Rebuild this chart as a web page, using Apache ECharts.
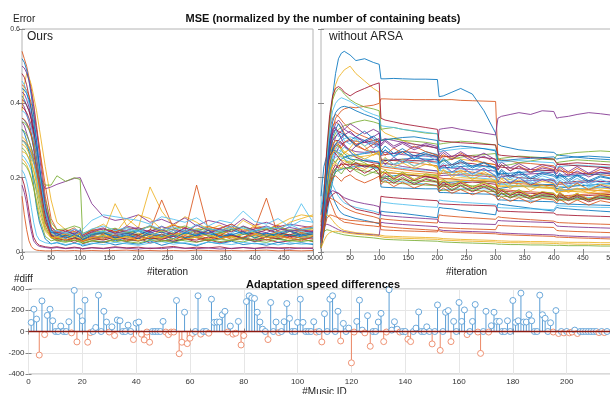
<!DOCTYPE html>
<html>
<head>
<meta charset="utf-8">
<script src="https://cdn.jsdelivr.net/npm/echarts@6/dist/echarts.min.js"></script>
<style>
html, body { margin: 0; padding: 0; background: #fff; }
#chart { width: 610px; height: 394px; }
</style>
</head>
<body>
<div id="chart"></div>
<script>
// iterations at which the "Ours" curves were read (error x 1000)
var oursIter = [0, 4, 8, 12, 16, 20, 25, 30, 40, 50, 60, 75, 90, 100, 104, 120, 140, 160, 180, 200,
    220, 240, 260, 280, 300, 320, 340, 360, 380, 400, 420, 440, 460, 480, 500];
var oursErr = [
    [420,410,395,380,360,330,280,220,120,60,40,30,38,32,28,35,42,30,38,45,33,40,28,36,44,30,38,46,34,29,41,35,30,44,38],
    [540,520,500,470,440,400,340,280,150,70,50,52,40,48,30,46,38,55,42,36,50,44,58,40,47,35,52,43,39,56,41,48,37,50,45],
    [380,450,480,470,450,420,380,330,230,140,80,60,55,50,45,60,75,50,90,65,175,110,70,95,80,60,72,55,85,68,60,74,90,100,95],
    [350,340,320,300,280,260,230,200,170,175,182,190,198,200,185,130,95,85,90,100,80,88,75,92,70,85,78,66,90,72,80,68,75,70,65],
    [300,295,285,270,255,240,220,200,180,180,205,190,200,195,50,60,45,55,50,62,48,40,52,46,58,42,50,38,47,55,41,49,44,52,46],
    [260,255,245,235,220,200,170,140,80,45,42,35,48,40,36,50,44,58,62,48,55,70,52,60,46,64,55,50,68,58,62,48,70,130,80],
    [480,470,450,420,380,330,260,190,90,40,30,35,25,32,22,30,26,34,28,38,24,32,29,36,27,33,25,31,37,28,34,26,30,35,28],
    [330,320,300,270,230,180,120,80,35,22,25,18,24,20,16,22,28,19,25,21,30,18,26,23,17,27,22,29,20,24,18,26,21,25,20],
    [450,445,435,420,400,370,330,280,180,90,60,55,65,50,40,55,48,62,50,45,58,140,65,52,180,60,55,70,48,62,145,45,60,52,58],
    [310,305,295,285,270,250,220,190,120,70,50,46,42,55,38,60,50,130,70,100,90,60,75,55,62,70,58,66,50,72,64,58,80,90,100],
    [400,390,370,350,320,280,220,160,80,48,40,44,50,38,34,42,38,46,52,40,48,36,44,58,42,50,62,45,38,52,47,55,42,48,50],
    [280,275,265,250,230,200,160,120,60,42,38,45,40,35,30,38,44,36,42,48,35,40,46,38,52,44,36,42,50,38,45,40,48,36,42],
    [460,450,430,400,360,310,250,190,100,55,42,40,45,38,60,85,100,95,90,85,75,95,88,80,92,70,85,78,110,82,75,90,68,85,80],
    [200,180,150,110,70,40,25,18,14,12,14,10,13,11,9,12,10,14,11,13,9,12,15,10,13,11,14,9,12,10,13,11,12,10,11],
    [360,355,345,330,310,280,230,180,90,45,45,40,36,48,33,44,52,40,47,36,55,42,50,38,46,53,41,49,37,45,51,40,46,42,48],
    [150,100,60,30,15,8,5,4,3,3,4,3,4,3,3,4,3,4,5,3,4,3,4,3,5,4,3,4,3,4,5,3,4,3,4],
    [250,245,235,220,200,175,140,105,55,38,38,32,36,30,28,34,40,45,38,32,42,36,48,52,40,35,44,38,50,42,46,39,55,48,52],
    [430,425,410,390,360,320,270,210,120,65,55,48,60,52,45,58,65,50,70,62,55,68,60,52,72,58,64,75,55,62,70,58,66,60,55],
    [330,325,315,300,280,250,200,150,70,38,30,26,32,28,24,30,35,27,33,29,38,31,26,34,40,29,35,31,27,36,32,38,30,34,29],
    [220,210,190,160,120,80,45,32,25,22,26,20,24,22,19,24,20,26,22,18,24,28,21,25,19,27,23,20,26,22,24,19,25,21,23],
    [390,385,375,360,340,310,260,210,110,55,52,60,46,55,40,52,48,62,55,45,60,52,48,66,50,58,44,62,54,48,60,52,46,58,50],
    [520,510,490,460,420,370,300,230,110,60,48,44,52,46,40,48,55,43,50,58,46,54,42,50,57,45,52,60,48,55,43,51,58,46,53],
    [300,298,290,280,265,245,215,180,110,60,52,48,55,50,46,58,62,54,66,60,70,58,72,64,56,68,62,75,58,66,60,72,55,64,70],
    [270,268,262,252,238,220,190,155,90,50,40,50,44,48,35,45,52,48,56,50,44,58,50,46,60,52,48,56,62,50,45,54,60,56,62],
    [180,160,130,90,55,30,20,15,12,10,12,9,11,10,8,11,9,12,10,8,11,9,12,10,9,11,8,10,12,9,11,10,8,11,9],
    [350,348,340,330,315,295,260,220,140,80,60,62,70,65,40,50,58,64,52,60,68,55,62,70,58,64,52,60,68,56,62,66,58,60,64],
    [300,296,288,276,260,240,205,165,90,52,48,52,46,55,42,50,56,48,54,60,50,45,58,52,62,48,55,64,50,58,66,52,60,55,50],
    [410,405,395,380,355,320,265,200,95,45,36,32,38,34,30,36,32,40,35,30,38,34,42,36,32,40,35,44,38,33,40,36,42,38,35],
    [440,436,426,410,385,350,295,230,110,52,50,38,46,40,34,46,52,38,44,56,40,48,36,52,44,58,40,47,54,38,50,44,56,42,48],
    [360,356,348,335,315,285,235,175,80,42,34,42,30,38,28,40,34,46,30,42,36,48,32,44,38,30,46,34,40,48,32,44,38,30,42],
    [290,286,278,266,248,222,180,135,65,38,40,32,44,36,30,38,46,34,42,30,44,38,50,34,40,46,36,42,32,48,38,44,34,40,46],
    [500,495,482,462,432,392,330,260,130,60,44,56,48,60,42,54,62,50,58,66,52,60,48,64,56,50,62,54,70,58,52,64,56,60,54],
    [240,236,228,216,198,172,130,90,42,30,34,28,32,26,24,30,26,34,28,24,32,28,36,30,26,34,28,32,38,30,26,34,30,28,32],
    [380,376,368,355,336,310,265,210,110,55,58,50,62,56,48,62,70,58,66,54,72,60,68,56,74,62,58,70,64,56,68,62,74,60,66]
];

// iterations at which the "without ARSA" curves were read (error x 1000)
var noArsaIter = [0, 5, 10, 15, 20, 25, 30, 35, 40, 50, 60, 75, 90, 100, 103, 110, 125, 140, 160, 180,
    200, 203, 210, 225, 240, 260, 280, 300, 304, 310, 325, 340, 360, 380, 400, 405, 410, 425, 440, 460, 480, 500];
var noArsaErr = [
    [40,120,230,340,420,480,520,535,540,530,515,520,510,505,466,466,467,466,465,465,464,418,420,430,440,425,380,320,290,285,280,275,272,270,268,262,260,258,255,252,250,248],
    [30,110,200,280,330,360,370,380,385,390,388,392,395,400,412,412,411,411,410,410,410,411,410,410,408,407,406,405,250,248,245,240,238,235,232,220,218,215,213,210,208,205],
    [50,150,260,350,410,450,470,480,490,500,480,460,440,430,330,320,310,300,290,285,280,260,258,255,250,245,240,235,200,198,195,190,185,180,178,170,168,165,162,160,158,155],
    [20,80,160,230,280,310,320,325,330,320,310,300,295,290,300,305,300,295,290,285,280,330,332,335,330,325,320,315,360,365,370,375,370,380,378,360,362,365,370,375,372,368],
    [30,100,190,260,300,320,330,335,340,345,350,355,350,345,300,302,305,300,298,295,290,240,245,250,255,260,262,265,230,232,235,240,245,250,248,260,262,265,268,270,272,270],
    [20,90,170,230,260,270,275,270,265,255,260,250,245,240,230,232,228,225,222,220,218,210,212,208,205,200,198,195,180,182,185,188,185,182,180,175,176,178,180,178,175,172],
    [40,130,220,290,320,330,325,320,315,300,290,295,300,305,260,262,265,270,268,262,258,230,232,235,240,238,232,228,210,208,205,200,198,195,192,185,186,188,190,192,190,188],
    [10,60,120,170,200,215,220,222,225,228,230,232,228,225,200,202,205,208,206,204,200,185,186,188,190,192,190,188,170,172,175,176,178,180,182,170,172,175,178,180,182,185],
    [50,160,260,330,360,370,365,355,345,330,320,310,300,295,250,248,246,244,240,236,232,210,212,215,218,215,210,205,190,188,186,184,182,180,178,165,166,168,170,168,165,162],
    [25,100,180,240,270,280,285,280,270,260,255,258,262,265,225,222,218,215,212,210,208,195,196,198,200,198,195,192,175,176,178,180,176,172,170,160,162,165,168,170,172,170],
    [15,70,140,200,240,265,280,290,295,300,298,295,290,288,270,268,265,262,260,258,255,230,228,226,224,222,220,218,200,202,205,208,210,212,215,205,206,208,210,212,214,215],
    [30,110,190,250,280,290,285,275,265,250,240,235,232,230,200,198,196,194,192,190,188,175,176,178,180,178,176,174,160,158,156,154,152,150,148,140,141,142,144,145,146,148],
    [20,80,150,210,250,275,290,300,305,310,305,300,290,280,240,238,236,240,245,248,250,220,218,215,212,210,208,205,185,183,180,178,176,175,174,165,166,168,170,172,174,176],
    [35,120,200,260,290,300,300,295,285,270,255,245,240,238,215,214,212,210,206,202,198,180,181,183,186,188,186,182,165,164,162,160,158,156,155,145,146,148,150,152,154,155],
    [10,50,100,150,190,220,240,250,255,260,262,265,268,270,245,246,248,250,252,250,248,225,226,228,230,232,230,228,210,211,212,214,216,218,220,200,202,204,206,208,210,212],
    [40,140,230,300,340,350,345,335,320,300,285,275,268,262,230,228,225,222,218,215,212,200,198,196,194,192,190,188,170,168,166,164,162,160,158,150,151,152,154,156,158,160],
    [20,90,160,210,235,245,250,248,245,240,238,236,234,232,215,214,212,210,208,205,203,190,190,191,192,193,192,190,178,178,177,176,175,174,173,162,162,163,164,165,165,166],
    [25,100,180,240,275,290,295,292,285,275,270,268,270,272,240,238,235,230,226,222,218,205,206,207,208,206,204,202,185,186,188,190,192,194,196,180,182,184,186,188,190,190],
    [15,60,120,170,200,215,222,225,226,225,222,218,214,210,190,188,186,184,182,180,178,165,166,167,168,166,164,162,150,150,149,148,147,146,145,138,139,140,141,142,143,144],
    [30,100,170,220,245,255,258,255,250,242,235,230,226,222,195,193,191,189,186,183,180,168,168,169,170,171,170,168,155,155,154,153,152,151,150,142,143,144,145,146,147,148],
    [20,70,130,180,210,225,232,235,236,236,234,232,230,228,245,246,247,248,246,244,242,255,256,258,260,258,254,250,230,228,226,224,222,220,218,235,236,238,240,238,236,234],
    [100,160,180,170,150,130,115,105,100,95,90,85,80,76,110,108,106,104,100,96,92,120,118,116,112,108,104,100,130,128,125,122,118,114,110,120,118,116,114,112,110,108],
    [80,140,150,140,120,100,90,85,80,78,75,72,70,68,90,88,86,84,82,80,78,100,98,96,94,92,90,88,95,93,91,89,87,85,83,80,79,78,77,76,75,74],
    [60,90,100,95,85,75,68,62,58,55,52,50,48,46,44,43,42,41,40,39,38,37,36,35,34,33,32,31,30,30,29,29,28,28,27,27,27,26,26,26,25,25],
    [50,70,75,72,68,64,60,57,55,52,50,48,46,45,80,78,76,74,72,70,68,60,58,57,56,55,54,53,52,51,50,49,48,47,46,45,44,43,42,41,40,40],
    [40,55,60,58,55,52,50,48,46,44,42,40,38,36,35,34,33,32,31,30,29,28,27,26,25,24,23,22,21,21,20,20,19,19,18,18,18,17,17,17,16,16],
    [120,180,200,195,180,165,150,140,132,125,120,115,110,105,135,133,130,128,125,122,120,140,138,136,134,132,130,128,120,119,118,117,116,115,114,125,124,123,122,121,120,120],
    [30,80,120,145,155,160,158,150,140,125,115,110,105,100,150,148,146,144,142,140,138,130,129,128,127,126,125,124,110,110,109,108,107,106,105,100,100,99,98,97,96,95],
    [150,230,260,270,275,272,268,262,256,250,248,246,244,242,175,174,173,172,171,170,170,160,160,159,158,157,156,155,140,140,139,138,137,136,135,130,130,129,128,127,126,125],
    [70,120,140,145,142,138,132,126,120,112,106,100,95,90,70,68,66,64,62,60,58,55,54,53,52,51,50,49,48,47,46,45,44,43,42,40,40,39,38,37,36,35],
    [20,100,190,260,290,300,290,275,265,280,300,285,260,270,240,255,235,250,230,245,225,205,220,200,215,195,210,190,175,190,170,185,165,180,170,160,175,160,172,158,168,160],
    [30,120,210,270,300,310,320,305,290,270,285,300,280,290,250,235,255,240,260,245,250,225,235,215,230,210,225,205,190,205,185,200,180,195,185,175,190,170,185,168,180,170],
    [15,80,160,220,250,240,255,265,250,235,250,240,225,235,210,220,200,215,195,210,205,185,195,180,190,175,188,172,160,170,155,168,150,162,158,150,160,145,158,142,155,148],
    [40,150,250,320,340,330,310,320,300,290,305,285,300,280,260,275,255,270,250,262,245,230,240,225,238,220,232,215,200,212,195,208,190,205,195,190,200,185,198,182,195,185],
    [10,60,130,190,220,235,225,240,230,215,228,212,225,210,190,200,185,198,182,195,188,170,180,165,178,162,175,160,148,158,145,155,142,152,148,140,150,138,148,135,145,140],
    [25,110,200,270,310,330,345,330,315,300,310,325,305,295,270,285,265,278,258,270,262,240,252,235,248,230,242,225,210,222,205,218,200,214,208,200,212,195,208,192,205,198],
    [20,90,170,230,270,285,290,280,295,305,290,275,290,300,275,260,280,265,285,270,260,245,262,248,266,250,240,235,220,235,218,232,215,230,222,215,228,210,225,208,222,215],
    [30,100,170,210,230,240,232,225,238,245,230,222,236,228,205,215,198,212,195,208,200,180,192,176,190,172,186,170,158,168,152,165,150,162,156,148,160,145,158,142,155,150],
    [35,130,230,300,330,335,320,305,315,325,310,295,310,320,285,298,280,292,275,288,278,255,268,250,262,245,258,240,222,235,218,230,212,226,220,210,222,205,218,202,215,208],
    [15,70,140,190,215,225,218,210,222,230,218,205,215,222,195,206,190,202,186,198,190,172,183,168,180,165,178,162,150,160,146,158,143,155,150,142,153,140,151,138,149,144],
    [20,85,165,225,260,270,262,275,282,270,258,268,276,262,240,252,236,248,232,244,238,218,230,214,226,210,222,206,192,204,188,200,185,197,190,182,194,178,190,175,187,180],
    [45,140,220,260,270,265,255,245,238,230,240,228,236,224,200,212,196,208,192,204,196,178,188,174,186,170,182,168,156,166,152,162,148,160,154,146,157,143,154,140,152,147],
    [25,95,175,240,275,290,300,310,318,300,285,300,312,298,262,275,258,270,252,265,256,236,248,230,244,226,240,222,205,218,200,214,196,210,204,196,208,190,205,188,202,196],
    [20,75,140,180,200,205,198,190,200,208,196,186,196,204,182,192,176,188,172,184,178,162,172,158,168,154,165,150,140,148,136,146,132,144,140,132,142,128,140,126,138,132],
    [30,110,190,245,268,272,265,256,268,276,262,250,262,270,232,244,228,240,224,236,230,212,222,208,220,204,216,200,186,196,182,194,178,190,184,176,188,172,184,168,182,176],
    [35,120,210,280,320,345,355,345,330,345,335,318,330,322,290,302,285,296,280,292,284,262,274,256,270,252,266,248,230,242,226,238,222,235,228,220,232,216,230,212,228,222],
    [30,140,260,360,410,430,440,435,425,410,400,390,385,380,330,332,335,330,325,320,318,290,292,295,298,296,292,288,250,252,255,258,256,254,250,240,242,245,248,246,244,242],
    [20,120,240,330,380,400,410,415,412,405,395,380,370,365,340,338,335,330,326,322,318,270,272,275,278,280,278,275,240,242,244,246,244,242,240,228,230,232,234,232,230,228],
    [40,150,280,370,420,440,445,440,430,420,430,440,450,455,360,355,350,345,340,335,330,300,298,296,294,292,290,288,262,260,258,256,254,252,250,238,236,234,232,230,228,226],
    [25,110,220,300,350,375,385,390,392,388,380,370,362,355,300,302,305,308,310,305,300,275,278,282,285,282,278,272,245,246,248,250,252,254,256,250,252,254,256,258,256,254],
    [20,60,90,100,98,95,92,90,88,85,84,82,80,78,60,59,58,57,56,55,54,66,65,64,63,62,61,60,72,71,70,69,68,67,66,58,57,56,55,54,53,52],
    [10,30,45,52,55,56,55,54,52,50,48,46,44,42,40,39,38,37,36,35,34,33,32,31,30,29,28,27,26,26,25,25,24,24,23,23,22,22,21,21,20,20],
    [30,90,140,160,165,162,158,152,146,140,135,130,126,122,100,98,96,94,92,90,88,80,79,78,77,76,75,74,85,84,83,82,81,80,79,70,69,68,67,66,65,64]
];

// adaptation speed difference per music ID (ID = index + 1)
var musicDiff = [
    85, 210, 117, -222, 288, -29, 152, 210, 101, 0, 0, 51, 0, 0, 92, -13, 387, -98, 190, 101,
    295, -101, -10, 0, 38, 342, 0, 190, 89, -5, 44, -38, 108, 101, 0, 0, 60, 0, -76, 79,
    89, -25, -79, -5, -101, 0, 0, 0, 0, 95, -5, -29, -5, -5, 292, -209, -101, 181, -114, -63,
    -19, 0, 336, -25, 0, 0, -16, 304, 86, 89, 89, 158, 190, -5, 51, -25, -16, 95, -127, -38,
    282, 336, 317, 311, 181, 89, 22, 0, -76, 273, 0, 89, -10, 0, 92, 263, 124, 0, 0, 86,
    304, 86, 0, 0, 0, 92, -5, 0, -98, 168, 0, 304, 336, 0, 190, -89, 76, 0, 32, -295,
    -5, 95, 295, 13, -13, 149, -139, 0, 0, 89, 171, -95, -5, 393, 13, 92, 22, -5, 0, 0,
    -73, -95, 0, 32, 184, 0, 0, 44, 0, -117, 0, 250, -178, 0, 181, 197, -95, 95, 0, 273,
    95, 203, -29, 0, 95, 254, -5, -206, 0, 190, -5, 54, 181, 95, 95, 0, 0, 101, 0, 292,
    86, 101, 361, 89, 89, 158, 101, 0, 0, 342, 158, 124, 0, 82, -5, 197, -19, 0, -13, 0,
    -13, -5, 13, -19, 0, 0, 0, 0, 0, 0, 0, -10, 0, -10, 0
];

var lineColors = ['#0072bd', '#d95319', '#edb120', '#7e2f8e', '#77ac30', '#4dbeee', '#a2142f'];
var font = 'Liberation Sans';
var boxColor = '#b4b4b4';
var labelColor = '#333';

function curveSeries(iters, curves, axisIdx) {
    return curves.map(function (c, i) {
        var pts = [];
        for (var j = 0; j < Math.min(c.length, iters.length); j++) {
            pts.push([iters[j], c[j] / 1000]);
        }
        return {
            type: 'line',
            xAxisIndex: axisIdx,
            yAxisIndex: axisIdx,
            data: pts,
            showSymbol: false,
            silent: true,
            animation: false,
            lineStyle: { width: 0.85, color: lineColors[i % lineColors.length] }
        };
    });
}

function xAx(grid, pos, max, interval, opts) {
    var a = {
        type: 'value', gridIndex: grid, position: pos, min: 0, max: max, interval: interval,
        axisLine: { show: false },
        axisTick: { show: true, inside: true, length: 3, lineStyle: { color: '#888' } },
        axisLabel: { show: pos === 'bottom', fontSize: 7, color: labelColor, margin: 3, fontFamily: font },
        splitLine: { show: false }
    };
    return Object.assign(a, opts || {});
}

function yAx(grid, pos, min, max, interval, opts) {
    var a = {
        type: 'value', gridIndex: grid, position: pos, min: min, max: max, interval: interval,
        axisLine: { show: false },
        axisTick: { show: true, inside: true, length: 3, lineStyle: { color: '#888' } },
        axisLabel: { show: false },
        splitLine: { show: false }
    };
    return Object.assign(a, opts || {});
}

var iterName = {
    name: '#iteration', nameLocation: 'middle', nameGap: 11,
    nameTextStyle: { fontSize: 10, color: '#222', fontFamily: font }
};

var series = curveSeries(oursIter, oursErr, 0).concat(curveSeries(noArsaIter, noArsaErr, 2));

series.push({
    type: 'custom',
    xAxisIndex: 4,
    yAxisIndex: 4,
    silent: true,
    animation: false,
    data: musicDiff.map(function (v, i) { return [i + 1, v]; }),
    renderItem: function (params, api) {
        var id = api.value(0), v = api.value(1);
        var base = api.coord([id, 0]);
        var tip = api.coord([id, v]);
        var c = v < 0 ? '#ec8866' : '#5c9fd6';
        return {
            type: 'group',
            children: [
                { type: 'line', shape: { x1: base[0], y1: base[1], x2: tip[0], y2: tip[1] },
                  style: { stroke: c, lineWidth: 1 } },
                { type: 'circle', shape: { cx: tip[0], cy: tip[1], r: 3 },
                  style: { fill: '#fff', stroke: c, lineWidth: 0.9 } }
            ]
        };
    },
    markLine: {
        silent: true,
        symbol: 'none',
        label: { show: false },
        lineStyle: { color: '#8e1b12', width: 1.3, type: 'solid' },
        data: [{ yAxis: 0 }]
    }
});

var chart = echarts.init(document.getElementById('chart'));
chart.setOption({
    animation: false,
    textStyle: { fontFamily: font },
    title: [
        { text: 'MSE (normalized by the number of containing beats)', left: 318, top: 8, textAlign: 'center',
          textStyle: { fontSize: 11, fontWeight: 'bold', color: '#111', fontFamily: font } },
        { text: 'Adaptation speed differences', left: 318, top: 274, textAlign: 'center',
          textStyle: { fontSize: 11, fontWeight: 'bold', color: '#111', fontFamily: font } }
    ],
    grid: [
        { left: 22, top: 29, width: 291, height: 223, show: true, borderColor: boxColor, borderWidth: 1,
          outerBoundsMode: 'none', containLabel: false },
        { left: 321, top: 29, width: 291, height: 223, show: true, borderColor: boxColor, borderWidth: 1,
          outerBoundsMode: 'none', containLabel: false },
        { left: 28.5, top: 289, width: 592, height: 85, show: true, borderColor: boxColor, borderWidth: 1,
          outerBoundsMode: 'none', containLabel: false }
    ],
    xAxis: [
        xAx(0, 'bottom', 500, 50, iterName),
        xAx(0, 'top', 500, 50),
        xAx(1, 'bottom', 500, 50, iterName),
        xAx(1, 'top', 500, 50),
        xAx(2, 'bottom', 220, 20, {
            axisLabel: { show: true, fontSize: 8, color: labelColor, margin: 4, fontFamily: font },
            splitLine: { show: true, lineStyle: { color: '#e6e6e6', width: 1 } },
            name: '#Music ID', nameLocation: 'middle', nameGap: 13,
            nameTextStyle: { fontSize: 10, color: '#222', fontFamily: font }
        }),
        xAx(2, 'top', 220, 20)
    ],
    yAxis: [
        yAx(0, 'left', 0, 0.6, 0.2, {
            axisLabel: { show: true, fontSize: 7, color: labelColor, margin: 2, fontFamily: font,
                formatter: function (v) { return v === 0 ? '0' : v.toFixed(1); } }
        }),
        yAx(0, 'right', 0, 0.6, 0.2),
        yAx(1, 'left', 0, 0.6, 0.2),
        yAx(1, 'right', 0, 0.6, 0.2),
        yAx(2, 'left', -400, 400, 200, {
            axisLabel: { show: true, fontSize: 8, color: labelColor, margin: 4, fontFamily: font },
            splitLine: { show: true, lineStyle: { color: '#e6e6e6', width: 1 } }
        }),
        yAx(2, 'right', -400, 400, 200)
    ],
    graphic: [
        { type: 'text', left: 13, top: 14, style: { text: 'Error', font: '10px "Liberation Sans"', fill: '#222' } },
        { type: 'text', left: 14, top: 274, style: { text: '#diff', font: '10px "Liberation Sans"', fill: '#222' } },
        { type: 'text', left: 27, top: 31, style: { text: 'Ours', font: '12px "Liberation Sans"', fill: '#222' } },
        { type: 'text', left: 329, top: 31, style: { text: 'without ARSA', font: '12px "Liberation Sans"', fill: '#222' } }
    ],
    series: series
});
</script>
</body>
</html>
